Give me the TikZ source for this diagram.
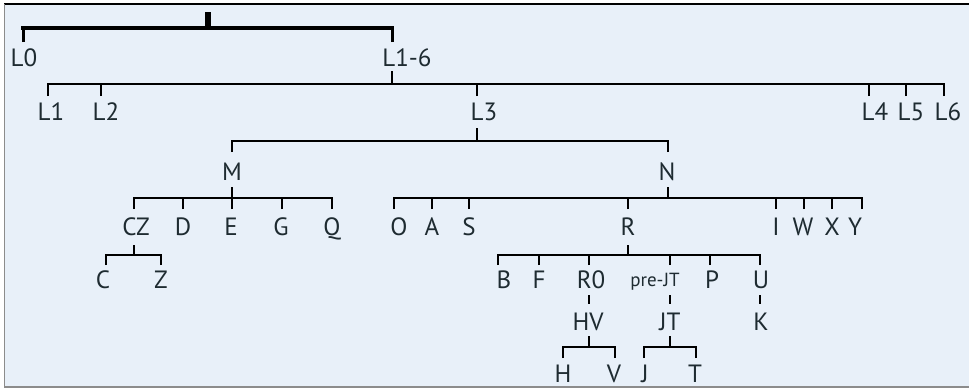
\documentclass[tikz,border=0pt]{standalone}
\usepackage{fontspec}
\setmainfont{PT Sans}
\definecolor{paper}{HTML}{E8F0F9}
\definecolor{ink}{HTML}{1E2B31}
\definecolor{rim}{HTML}{8C8C8C}
\newcommand\minorsize{\fontsize{19}{19}\selectfont}
% #1 name, #2 x of its connector, #3 x of the text centre, #4 baseline,
% #5 y where the incoming line ends, #6 y where the outgoing line starts, #7 text
\newcommand\taxon[7]{%
  \node[lab] (#1) at (#3,#4) {#7};
  \coordinate (#1-in) at (#2,#5);
  \coordinate (#1-out) at (#2,#6);}
\begin{document}
\begin{tikzpicture}[x=1pt,y=-1pt,
  lab/.style={inner sep=0pt, anchor=base, text=ink, font=\fontsize{25}{25}\selectfont},
  link/.style={draw=black, line cap=butt},
  bar/.style={draw=black, line cap=rect}]
\useasboundingbox (0,0) rectangle (969,388);
% frame
\fill[paper] (4,4) rectangle (969,387);
\draw[black, line width=1.2pt] (4,4) -- (969,4);
\draw[rim, line width=1.6pt] (4.5,4) -- (4.5,387);
\draw[rim, line width=2pt] (4,387) -- (969,387);

% labels
\taxon{L0}{23}{24}{66}{42}{71}{L0}
\taxon{L16}{392}{407}{66}{42}{71}{L1-6}
\taxon{L1}{48}{51}{120}{96}{128}{L1}
\taxon{L2}{101}{106}{120}{96}{128}{L2}
\taxon{L3}{477}{484}{120}{96}{128}{L3}
\taxon{L4}{869}{875}{120}{96}{128}{L4}
\taxon{L5}{906}{911}{120}{96}{128}{L5}
\taxon{L6}{944}{948}{120}{96}{128}{L6}
\taxon{M}{232}{232}{180}{152}{187}{M}
\taxon{N}{668}{667}{180}{152}{187}{N}
\taxon{CZ}{134}{136}{235}{209}{245}{CZ}
\taxon{D}{183}{183}{235}{209}{245}{D}
\taxon{E}{232}{231}{235}{209}{245}{E}
\taxon{G}{282}{281}{235}{209}{245}{G}
\taxon{Q}{332}{332}{235}{209}{245}{Q}
\taxon{O}{394}{399}{235}{209}{245}{O}
\taxon{A}{432}{432}{235}{209}{245}{A}
\taxon{S}{469}{469}{235}{209}{245}{S}
\taxon{R}{628}{628}{235}{209}{245}{R}
\taxon{I}{776}{776}{235}{209}{245}{I}
\taxon{W}{804}{803}{235}{209}{245}{W}
\taxon{X}{832}{832}{235}{209}{245}{X}
\taxon{Y}{862}{855}{235}{209}{245}{Y}
\taxon{C}{106}{103}{288}{265}{295}{C}
\taxon{Z}{161}{161}{288}{265}{295}{Z}
\taxon{B}{498}{504}{288}{265}{295}{B}
\taxon{F}{539}{539}{288}{265}{295}{F}
\taxon{R0}{589}{591}{288}{265}{295}{R0}
\taxon{preJT}{670}{655}{286}{265}{295}{\minorsize pre-JT}
\taxon{P}{710}{712}{288}{265}{295}{P}
\taxon{U}{760}{761}{288}{265}{295}{U}
\taxon{HV}{589}{588}{330}{304}{336}{HV}
\taxon{JT}{670}{670}{330}{304}{336}{JT}
\taxon{K}{760}{761}{330}{304}{336}{K}
\taxon{H}{563}{563}{382}{358}{390}{H}
\taxon{V}{615}{614}{382}{358}{390}{V}
\taxon{J}{644}{645}{382}{358}{390}{J}
\taxon{T}{696}{695}{382}{358}{390}{T}

% root
\coordinate (root) at (208,12);
\draw[link, line width=6pt] (root) -- (root |- 0,28);
\draw[bar, line width=3.5pt] (L0-in |- 0,28) -- (L16-in |- 0,28);
\foreach \c in {L0,L16} \draw[link, line width=3pt] (\c-in) -- (\c-in |- 0,28);

% L1-6
\draw[link, line width=2.4pt] (L16-out) -- (L16-out |- 0,84);
\draw[bar, line width=2.2pt] (L1-in |- 0,84) -- (L6-in |- 0,84);
\foreach \c in {L1,L2,L4,L5,L6} \draw[link, line width=1.3pt] (\c-in) -- (\c-in |- 0,84);
\draw[link, line width=2.6pt] (L3-in) -- (L3-in |- 0,84);

% L3
\draw[link, line width=2.6pt] (L3-out) -- (L3-out |- 0,141);
\draw[bar, line width=2.3pt] (M-in |- 0,141) -- (N-in |- 0,141);
\foreach \c in {M,N} \draw[link, line width=2.6pt] (\c-in) -- (\c-in |- 0,141);

% M
\draw[link, line width=2.2pt] (M-out) -- (M-out |- 0,198);
\draw[bar, line width=2pt] (CZ-in |- 0,198) -- (Q-in |- 0,198);
\foreach \c in {CZ,D,E,G,Q} \draw[link, line width=1.8pt] (\c-in) -- (\c-in |- 0,198);

% N
\draw[link, line width=2.2pt] (N-out) -- (N-out |- 0,198);
\draw[bar, line width=2pt] (O-in |- 0,198) -- (Y-in |- 0,198);
\foreach \c in {O,A,S,R,I,W,X,Y} \draw[link, line width=1.8pt] (\c-in) -- (\c-in |- 0,198);

% CZ
\draw[link, line width=1.8pt] (CZ-out) -- (CZ-out |- 0,255);
\draw[bar, line width=1.6pt] (C-in |- 0,255) -- (Z-in |- 0,255);
\foreach \c in {C,Z} \draw[link, line width=1.6pt] (\c-in) -- (\c-in |- 0,255);

% R
\draw[link, line width=1.8pt] (R-out) -- (R-out |- 0,255);
\draw[bar, line width=1.6pt] (B-in |- 0,255) -- (U-in |- 0,255);
\foreach \c in {B,F,R0,preJT,P,U} \draw[link, line width=1.4pt] (\c-in) -- (\c-in |- 0,255);

% single descendants
\draw[link, line width=1.3pt] (R0-out) -- (HV-in);
\draw[link, line width=1.3pt] (preJT-out) -- (JT-in);
\draw[link, line width=1.3pt] (U-out) -- (K-in);

% HV and JT
\draw[link, line width=1.5pt] (HV-out) -- (HV-out |- 0,347);
\draw[bar, line width=1.5pt] (H-in |- 0,347) -- (V-in |- 0,347);
\foreach \c in {H,V} \draw[link, line width=1.5pt] (\c-in) -- (\c-in |- 0,347);
\draw[link, line width=1.5pt] (JT-out) -- (JT-out |- 0,347);
\draw[bar, line width=1.5pt] (J-in |- 0,347) -- (T-in |- 0,347);
\foreach \c in {J,T} \draw[link, line width=1.5pt] (\c-in) -- (\c-in |- 0,347);
\end{tikzpicture}
\end{document}
